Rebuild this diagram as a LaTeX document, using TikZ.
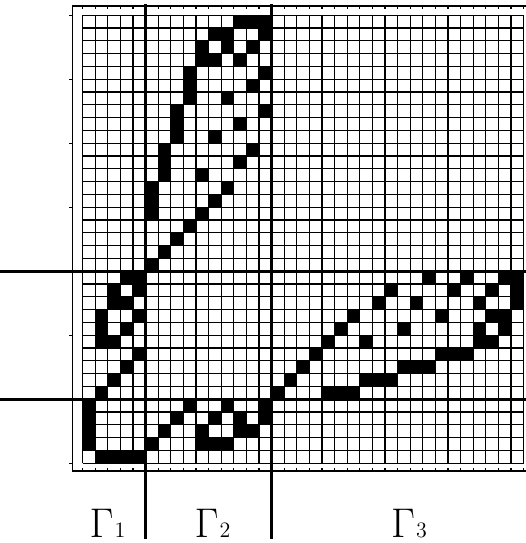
\documentclass[tikz,border=0pt]{standalone}
\begin{document}
\begin{tikzpicture}[
    x=6.3pt, y=6.4pt,
    gridline/.style={line width=0.6pt},
    frameline/.style={line width=0.8pt},
    cutline/.style={line width=1.5pt},
    lbl/.style={font=\fontsize{21}{21}\selectfont, anchor=base, inner sep=0pt}
]
\useasboundingbox (-6.563,-6.227) rectangle (35.18,36.195);

% outer frame with ticks
\draw[frameline] (35.18,35.73) -- (-0.794,35.73) -- (-0.794,-0.6) -- (35.18,-0.6);
\foreach \i in {0,...,35} {
    \draw[gridline] (\i,-0.6) -- (\i,-0.4);
    \draw[gridline] (\i,35.73) -- (\i,35.53);
}
\foreach \j in {0,5,...,35}
    \draw[gridline] (-0.794,\j) -- (-1.05,\j);

% grid
\foreach \i in {0,...,35} {
    \draw[gridline] (\i,0) -- (\i,35);
    \draw[gridline] (0,\i) -- (35,\i);
}

% black cells (column/row from the top)
\foreach \cc/\rr in {12/0,13/0,14/0, 10/1,11/1,14/1, 9/2,11/2,13/2, 9/3,10/3,12/3,
    8/4,14/4, 8/5,13/5, 8/6,11/6, 7/7,14/7, 7/8,12/8, 7/9,10/9,
    6/10,13/10, 6/11,12/11, 6/12,9/12, 5/13,11/13, 5/14,10/14, 5/15,9/15,
    8/16, 7/17, 6/18, 5/19}
    \fill (\cc,34-\rr) rectangle ++(1,1);
\foreach \cc/\rr in {3/20,4/20, 2/21,4/21, 2/22,3/22, 1/23,4/23, 1/24,3/24, 1/25,2/25,
    4/26, 3/27, 2/28, 1/29, 0/30, 0/31, 0/32, 0/33, 1/34,2/34,3/34,4/34}
    \fill (\cc,34-\rr) rectangle ++(1,1);
\foreach \cc/\rr in {8/30,11/30,14/30, 7/31,10/31,12/31,14/31, 6/32,9/32,12/32,13/32,
    5/33,9/33,10/33,11/33}
    \fill (\cc,34-\rr) rectangle ++(1,1);
\foreach \cc/\rr in {27/20,30/20,33/20,34/20, 24/21,29/21,32/21,34/21,
    23/22,26/22,31/22,34/22, 21/23,28/23,32/23,33/23, 20/24,25/24,31/24,33/24,
    19/25,22/25,31/25,32/25, 18/26,28/26,29/26,30/26, 17/27,25/27,26/27,27/27,
    16/28,22/28,23/28,24/28, 15/29,19/29,20/29,21/29}
    \fill (\cc,34-\rr) rectangle ++(1,1);

% dividing lines
\draw[cutline] (5,35.9) -- (5,-5.9);
\draw[cutline] (15,35.9) -- (15,-5.95);
\draw[cutline] (-6.563,5) -- (35.18,5);
\draw[cutline] (-6.563,15) -- (35.18,15);

% labels
\node[lbl] (gamma1) at (1.97,-5.76) {$\Gamma$\kern0.5pt{\fontsize{11}{11}\selectfont 1}};
\node[lbl] (gamma2) at (10.3,-5.76) {$\Gamma$\kern0.5pt{\fontsize{11}{11}\selectfont 2}};
\node[lbl] (gamma3) at (25.9,-5.76) {$\Gamma$\kern0.5pt{\fontsize{11}{11}\selectfont 3}};
\end{tikzpicture}
\end{document}
